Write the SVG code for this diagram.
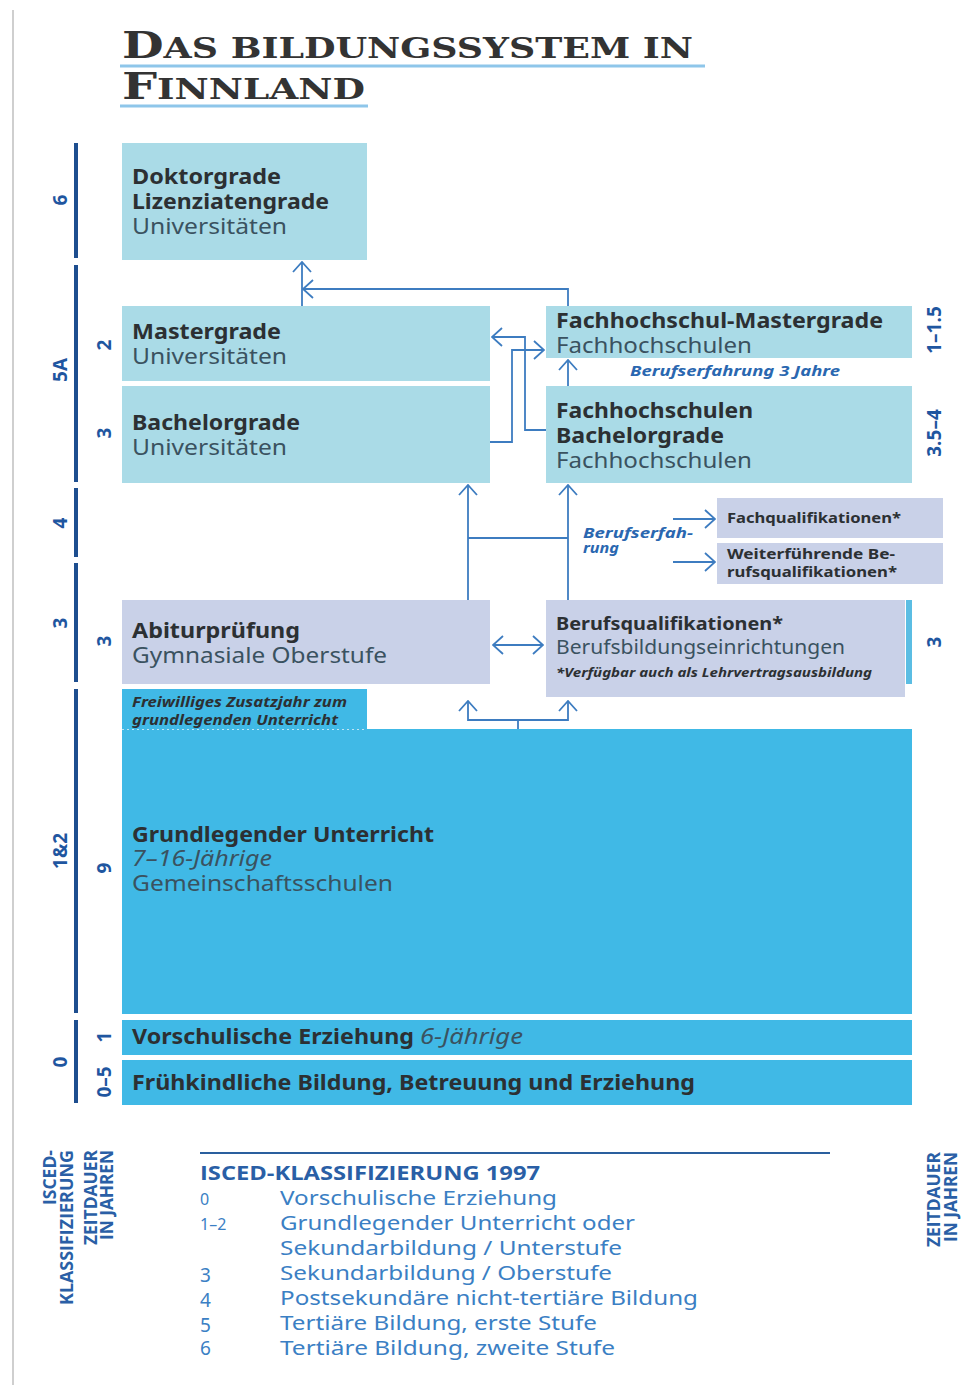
<svg xmlns="http://www.w3.org/2000/svg" width="970" height="1385" viewBox="0 0 970 1385">
<defs>
<style>
.bg{fill:#ffffff}
.lb{fill:#aadbe7}
.lav{fill:#c9d1e8}
.cy{fill:#40b9e6}
.t{font-family:"Noto Sans","Open Sans","Liberation Sans",sans-serif;font-size:21px}
.b{font-weight:bold;fill:#2c3033}
.r{font-weight:normal;fill:#3a5260}
.it{font-style:italic}
.blu{fill:#2a67b0;font-weight:bold;font-style:italic;font-family:"Noto Sans","Open Sans","Liberation Sans",sans-serif}
.ax{stroke:#1d4e8f;stroke-width:4;fill:none}
.axl{font-family:"Open Sans","Noto Sans","Liberation Sans",sans-serif;font-weight:bold;font-size:19px;fill:#1f56a0;text-anchor:middle}
.con{stroke:#3d7cc0;stroke-width:1.8;fill:none}
.leg{font-family:"Noto Sans","Open Sans","Liberation Sans",sans-serif;font-size:20px;fill:#3b7fc4}
.legh{font-family:"Open Sans","Noto Sans","Liberation Sans",sans-serif;font-size:17px;font-weight:bold;fill:#2a5fa6;text-anchor:end}
.title{font-family:"DejaVu Serif","Liberation Serif",serif;font-weight:bold;fill:#333333}
</style>
<marker id="arr" viewBox="0 0 12 20" refX="11" refY="10" markerWidth="12" markerHeight="20" markerUnits="userSpaceOnUse" orient="auto-start-reverse">
<path d="M1,1 L11,10 L1,19" fill="none" stroke="#3d7cc0" stroke-width="1.8"/>
</marker>
</defs>
<rect class="bg" x="0" y="0" width="970" height="1385"/>
<line x1="13" y1="10" x2="13" y2="1385" stroke="#cfcfcf" stroke-width="2"/>

<g id="title">
<text class="title" x="122" y="58" textLength="571" lengthAdjust="spacingAndGlyphs"><tspan font-size="37">D</tspan><tspan font-size="28">AS BILDUNGSSYSTEM IN</tspan></text>
<line x1="120" y1="66" x2="705" y2="66" stroke="#8ec6ea" stroke-width="3"/>
<text class="title" x="122" y="99" textLength="243" lengthAdjust="spacingAndGlyphs"><tspan font-size="37">F</tspan><tspan font-size="28">INNLAND</tspan></text>
<line x1="120" y1="106" x2="368" y2="106" stroke="#8ec6ea" stroke-width="3"/>
</g>

<g id="axis-isced">
<line class="ax" x1="76" y1="143" x2="76" y2="258"/>
<line class="ax" x1="76" y1="265" x2="76" y2="482"/>
<line class="ax" x1="76" y1="488" x2="76" y2="557"/>
<line class="ax" x1="76" y1="563" x2="76" y2="682"/>
<line class="ax" x1="76" y1="689" x2="76" y2="1013"/>
<line class="ax" x1="76" y1="1020" x2="76" y2="1103"/>
<text class="axl" transform="translate(67,200) rotate(-90)">6</text>
<text class="axl" transform="translate(67,370) rotate(-90)">5A</text>
<text class="axl" transform="translate(67,523) rotate(-90)">4</text>
<text class="axl" transform="translate(67,623) rotate(-90)">3</text>
<text class="axl" transform="translate(67,851) rotate(-90)">1&amp;2</text>
<text class="axl" transform="translate(67,1062) rotate(-90)">0</text>
</g>

<g id="axis-duration">
<text class="axl" transform="translate(111,345) rotate(-90)">2</text>
<text class="axl" transform="translate(111,433) rotate(-90)">3</text>
<text class="axl" transform="translate(111,641) rotate(-90)">3</text>
<text class="axl" transform="translate(111,868) rotate(-90)">9</text>
<text class="axl" transform="translate(111,1037) rotate(-90)">1</text>
<text class="axl" transform="translate(111,1082) rotate(-90)">0–5</text>
<text class="axl" transform="translate(941,330) rotate(-90)">1–1.5</text>
<text class="axl" transform="translate(941,433) rotate(-90)">3.5–4</text>
<text class="axl" transform="translate(941,642) rotate(-90)">3</text>
</g>

<g id="node-doktor">
<rect class="lb" x="122" y="143" width="245" height="117"/>
<text class="t b" x="132" y="184" textLength="149" lengthAdjust="spacingAndGlyphs">Doktorgrade</text>
<text class="t b" x="132" y="209" textLength="197" lengthAdjust="spacingAndGlyphs">Lizenziatengrade</text>
<text class="t r" x="132" y="234" textLength="155" lengthAdjust="spacingAndGlyphs">Universitäten</text>
</g>

<g id="node-master">
<rect class="lb" x="122" y="306" width="368" height="75"/>
<text class="t b" x="132" y="339" textLength="149" lengthAdjust="spacingAndGlyphs">Mastergrade</text>
<text class="t r" x="132" y="364" textLength="155" lengthAdjust="spacingAndGlyphs">Universitäten</text>
</g>

<g id="node-bachelor">
<rect class="lb" x="122" y="386" width="368" height="97"/>
<text class="t b" x="132" y="430" textLength="168" lengthAdjust="spacingAndGlyphs">Bachelorgrade</text>
<text class="t r" x="132" y="455" textLength="155" lengthAdjust="spacingAndGlyphs">Universitäten</text>
</g>

<g id="node-fh-master">
<rect class="lb" x="546" y="306" width="366" height="52"/>
<text class="t b" x="556" y="328" textLength="327" lengthAdjust="spacingAndGlyphs">Fachhochschul-Mastergrade</text>
<text class="t r" x="556" y="353" textLength="196" lengthAdjust="spacingAndGlyphs">Fachhochschulen</text>
</g>

<g id="label-berufserfahrung-3">
<text class="blu" x="630" y="376" style="font-size:15px" textLength="210" lengthAdjust="spacingAndGlyphs">Berufserfahrung 3 Jahre</text>
</g>

<g id="node-fh-bachelor">
<rect class="lb" x="546" y="386" width="366" height="97"/>
<text class="t b" x="556" y="418" textLength="197" lengthAdjust="spacingAndGlyphs">Fachhochschulen</text>
<text class="t b" x="556" y="443" textLength="168" lengthAdjust="spacingAndGlyphs">Bachelorgrade</text>
<text class="t r" x="556" y="468" textLength="196" lengthAdjust="spacingAndGlyphs">Fachhochschulen</text>
</g>

<g id="label-berufserfahrung">
<text class="blu" x="583" y="538" style="font-size:14px" textLength="110" lengthAdjust="spacingAndGlyphs">Berufserfah-</text>
<text class="blu" x="583" y="553" style="font-size:14px" textLength="36" lengthAdjust="spacingAndGlyphs">rung</text>
</g>

<g id="node-fachqualifikationen">
<rect class="lav" x="717" y="498" width="226" height="40"/>
<text class="t b" x="727" y="523" style="font-size:14px" textLength="174" lengthAdjust="spacingAndGlyphs">Fachqualifikationen*</text>
</g>

<g id="node-weiterfuehrende">
<rect class="lav" x="717" y="543" width="226" height="41"/>
<text class="t b" x="727" y="559" style="font-size:14px" textLength="168" lengthAdjust="spacingAndGlyphs">Weiterführende Be-</text>
<text class="t b" x="727" y="577" style="font-size:14px" textLength="170" lengthAdjust="spacingAndGlyphs">rufsqualifikationen*</text>
</g>

<g id="node-abitur">
<rect class="lav" x="122" y="600" width="368" height="84"/>
<text class="t b" x="132" y="638" textLength="168" lengthAdjust="spacingAndGlyphs">Abiturprüfung</text>
<text class="t r" x="132" y="663" textLength="255" lengthAdjust="spacingAndGlyphs">Gymnasiale Oberstufe</text>
</g>

<g id="node-berufsqualifikationen">
<rect class="lav" x="546" y="600" width="359" height="97"/>
<rect x="906" y="600" width="6" height="84" fill="#5bbde3"/>
<text class="t b" x="556" y="630" style="font-size:17px" textLength="227" lengthAdjust="spacingAndGlyphs">Berufsqualifikationen*</text>
<text class="t r" x="556" y="654" style="font-size:19px" textLength="289" lengthAdjust="spacingAndGlyphs">Berufsbildungseinrichtungen</text>
<text class="t b it" x="556" y="677" style="font-size:12px" textLength="316" lengthAdjust="spacingAndGlyphs">*Verfügbar auch als Lehrvertragsausbildung</text>
</g>

<g id="node-freiwilliges">
<rect class="cy" x="122" y="689" width="245" height="41"/>
<text class="t b it" x="132" y="707" style="font-size:14px" textLength="215" lengthAdjust="spacingAndGlyphs">Freiwilliges Zusatzjahr zum</text>
<text class="t b it" x="132" y="725" style="font-size:14px" textLength="206" lengthAdjust="spacingAndGlyphs">grundlegenden Unterricht</text>
</g>

<g id="node-grundlegender">
<rect class="cy" x="122" y="729" width="790" height="285"/>
<line x1="122" y1="729.5" x2="366" y2="729.5" stroke="#bfe6f5" stroke-width="1" stroke-dasharray="2 3"/>
<text class="t b" x="132" y="842" textLength="302" lengthAdjust="spacingAndGlyphs">Grundlegender Unterricht</text>
<text class="t r it" x="132" y="866" textLength="140" lengthAdjust="spacingAndGlyphs">7–16-Jährige</text>
<text class="t r" x="132" y="891" textLength="261" lengthAdjust="spacingAndGlyphs">Gemeinschaftsschulen</text>
</g>

<g id="node-vorschulische">
<rect class="cy" x="122" y="1020" width="790" height="35"/>
<text class="t b" x="132" y="1044" textLength="282" lengthAdjust="spacingAndGlyphs">Vorschulische Erziehung</text>
<text class="t r it" x="420" y="1044" textLength="103" lengthAdjust="spacingAndGlyphs">6-Jährige</text>
</g>

<g id="node-fruehkindliche">
<rect class="cy" x="122" y="1060" width="790" height="45"/>
<text class="t b" x="132" y="1090" textLength="563" lengthAdjust="spacingAndGlyphs">Frühkindliche Bildung, Betreuung und Erziehung</text>
</g>

<g id="connectors">
<path class="con" d="M302,306 V262" marker-end="url(#arr)"/>
<path class="con" d="M568,306 V289 H303" marker-end="url(#arr)"/>
<path class="con" d="M546,430 H525 V337 H492" marker-end="url(#arr)"/>
<path class="con" d="M490,442 H512 V350 H544" marker-end="url(#arr)"/>
<path class="con" d="M568,386 V360" marker-end="url(#arr)"/>
<path class="con" d="M468,600 V485" marker-end="url(#arr)"/>
<path class="con" d="M568,600 V485" marker-end="url(#arr)"/>
<path class="con" d="M468,538 H568"/>
<path class="con" d="M673,519 H715" marker-end="url(#arr)"/>
<path class="con" d="M673,562 H715" marker-end="url(#arr)"/>
<path class="con" d="M493,645 H543" marker-start="url(#arr)" marker-end="url(#arr)"/>
<path class="con" d="M468,701 V720 H568 V701" marker-start="url(#arr)" marker-end="url(#arr)"/>
<path class="con" d="M518,720 V729"/>
</g>

<g id="legend">
<line x1="200" y1="1153" x2="830" y2="1153" stroke="#2a5f9e" stroke-width="2"/>
<text x="200" y="1180" font-family="Open Sans, Noto Sans, Liberation Sans, sans-serif" font-size="20" font-weight="bold" fill="#2a5fa6" textLength="340" lengthAdjust="spacingAndGlyphs">ISCED-KLASSIFIZIERUNG 1997</text>
<text class="leg" x="200" y="1205" style="font-size:16px">0</text>
<text class="leg" x="200" y="1230" style="font-size:16px">1–2</text>
<text class="leg" x="200" y="1282" style="font-size:19px">3</text>
<text class="leg" x="200" y="1307" style="font-size:19px">4</text>
<text class="leg" x="200" y="1332" style="font-size:19px">5</text>
<text class="leg" x="200" y="1355" style="font-size:19px">6</text>
<text class="leg" x="280" y="1205" textLength="277" lengthAdjust="spacingAndGlyphs">Vorschulische Erziehung</text>
<text class="leg" x="280" y="1230" textLength="355" lengthAdjust="spacingAndGlyphs">Grundlegender Unterricht oder</text>
<text class="leg" x="280" y="1255" textLength="342" lengthAdjust="spacingAndGlyphs">Sekundarbildung / Unterstufe</text>
<text class="leg" x="280" y="1280" textLength="332" lengthAdjust="spacingAndGlyphs">Sekundarbildung / Oberstufe</text>
<text class="leg" x="280" y="1305" textLength="418" lengthAdjust="spacingAndGlyphs">Postsekundäre nicht-tertiäre Bildung</text>
<text class="leg" x="280" y="1330" textLength="317" lengthAdjust="spacingAndGlyphs">Tertiäre Bildung, erste Stufe</text>
<text class="leg" x="280" y="1355" textLength="335" lengthAdjust="spacingAndGlyphs">Tertiäre Bildung, zweite Stufe</text>
<text class="legh" transform="translate(56,1150) rotate(-90)" textLength="55" lengthAdjust="spacingAndGlyphs">ISCED-</text>
<text class="legh" transform="translate(73,1150) rotate(-90)" textLength="155" lengthAdjust="spacingAndGlyphs">KLASSIFIZIERUNG</text>
<text class="legh" transform="translate(97,1150) rotate(-90)" textLength="95" lengthAdjust="spacingAndGlyphs">ZEITDAUER</text>
<text class="legh" transform="translate(113,1150) rotate(-90)" textLength="90" lengthAdjust="spacingAndGlyphs">IN JAHREN</text>
<text class="legh" transform="translate(940,1152) rotate(-90)" textLength="95" lengthAdjust="spacingAndGlyphs">ZEITDAUER</text>
<text class="legh" transform="translate(957,1152) rotate(-90)" textLength="90" lengthAdjust="spacingAndGlyphs">IN JAHREN</text>
</g>
</svg>
